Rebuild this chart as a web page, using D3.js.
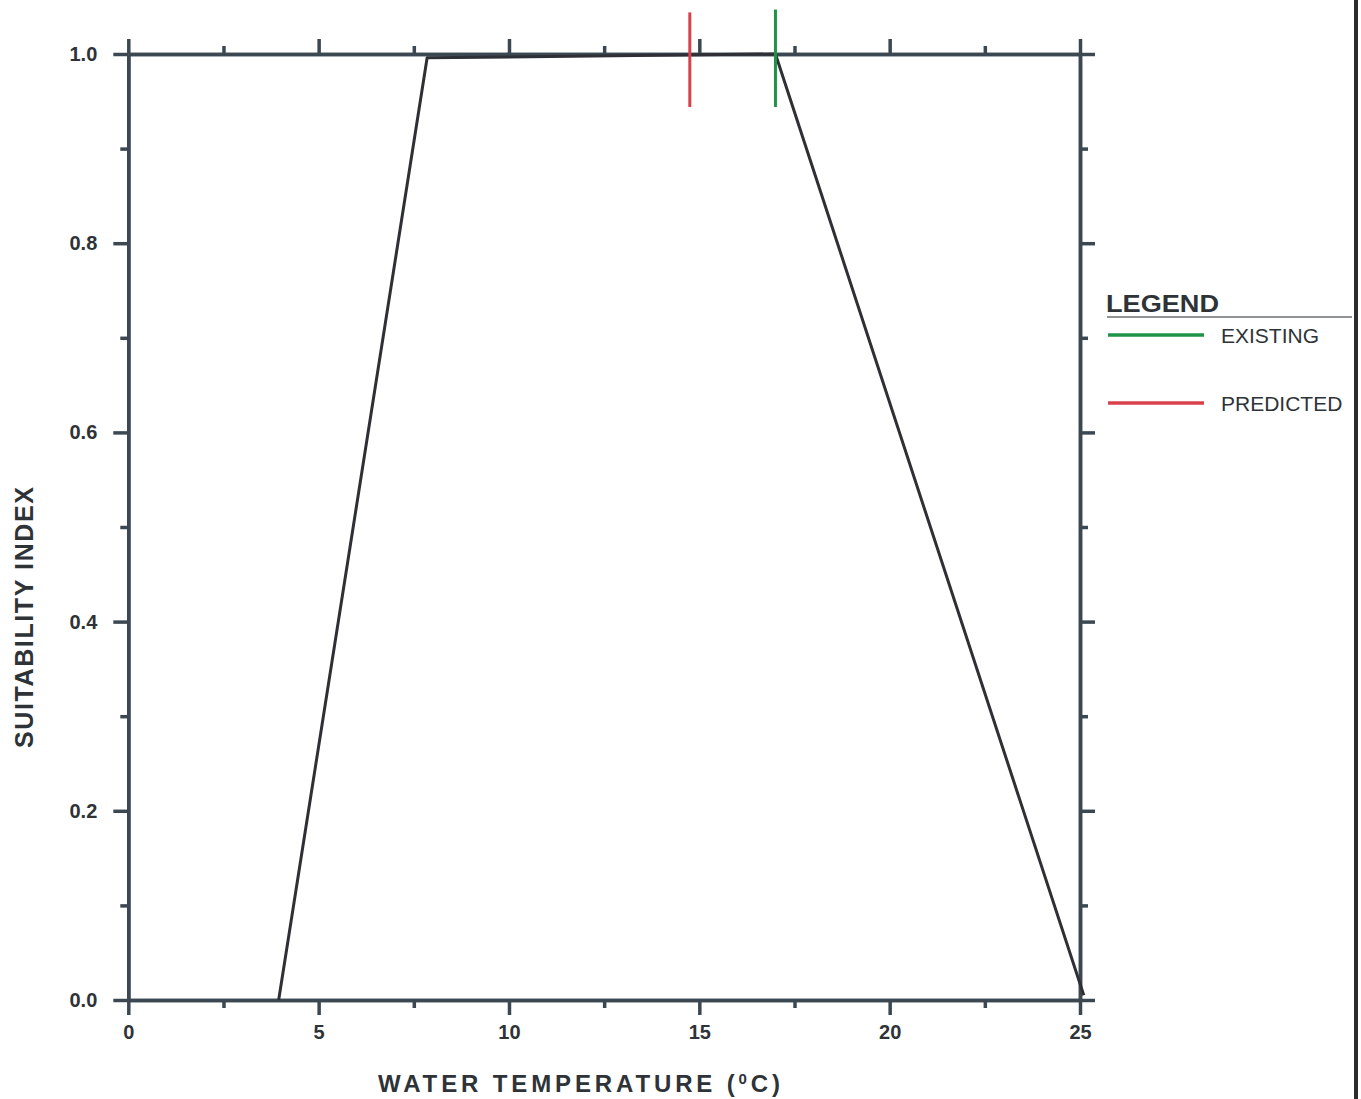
<!DOCTYPE html>
<html lang="en">
<head>
<meta charset="UTF-8">
<title>Suitability Index vs Water Temperature</title>
<script src="https://cdn.jsdelivr.net/npm/d3@7"></script>
<style>
    body { margin: 0; background: #fff; }
    svg  { display: block; }
    .tick text { font-family: "Liberation Sans", Arial, sans-serif; font-weight: bold; font-size: 20px; fill: #2e3338; }
    .title { font-family: "Liberation Sans", Arial, sans-serif; font-weight: bold; fill: #2e3338; }
    .leg { font-family: "Liberation Sans", Arial, sans-serif; fill: #2e3338; }
</style>
</head>
<body>
<svg id="chart" width="1361" height="1099"></svg>
<script>
// suitability curve (temperature, index)
var curveTemp = [3.95, 7.85, 17.0, 25.1];
var curveIndex = [0.0, 0.996, 1.0, 0.005];

// condition markers drawn at the top of the plot
var markerNames = ["EXISTING", "PREDICTED"];
var markerTemp = [17.0, 14.75];
var markerColors = ["#1f9448", "#d8404c"];
var markerLow = [0.944, 0.944];
var markerHigh = [1.047, 1.044];

// ticks
var xMajor = [0, 5, 10, 15, 20, 25];
var xMinor = [2.5, 7.5, 12.5, 17.5, 22.5];
var yMajor = [0, 0.2, 0.4, 0.6, 0.8, 1.0];
var yMinor = [0.1, 0.3, 0.5, 0.7, 0.9];

var axisColor = "#3b4852";
var svg = d3.select("#chart");

var x = d3.scaleLinear().domain([0, 25]).range([128.3, 1080]);
var y = d3.scaleLinear().domain([0, 1]).range([1000, 54]);

// minor ticks first (no labels), then major ticks with optional labels
function drawAxis(gen, tx, ty, major, minor, labels) {
    var g = svg.append("g").attr("transform", "translate(" + tx + "," + ty + ")");
    g.append("g")
    .call(gen.tickValues(minor).tickSize(8).tickSizeOuter(0).tickFormat(""));
    g.append("g")
    .call(gen.tickValues(major).tickSize(15).tickSizeOuter(0)
        .tickFormat(labels ? labels : ""));
    g.selectAll(".domain").attr("stroke", axisColor).attr("stroke-width", 3.5);
    g.selectAll(".tick line").attr("stroke", axisColor).attr("stroke-width", 3.5);
    return g;
}

var bottom = drawAxis(d3.axisBottom(x), 0, y(0), xMajor, xMinor, d3.format("d"));
bottom.selectAll(".tick text").attr("y", 25);
drawAxis(d3.axisTop(x), 0, y(1), xMajor, xMinor, null);
var left = drawAxis(d3.axisLeft(y), x(0), 0, yMajor, yMinor, d3.format(".1f"));
left.selectAll(".tick text").attr("x", -31);
drawAxis(d3.axisRight(y), x(25), 0, yMajor, yMinor, null);

// curve
var pts = curveTemp.map(function(t, i) { return [t, curveIndex[i]]; });
var line = d3.line().x(function(d) { return x(d[0]); }).y(function(d) { return y(d[1]); });
svg.append("path")
.datum(pts)
.attr("d", line)
.attr("fill", "none")
.attr("stroke", "#2f3036")
.attr("stroke-width", 3)
.attr("stroke-linejoin", "round");

// markers
markerNames.forEach(function(n, i) {
    svg.append("line")
    .attr("x1", x(markerTemp[i])).attr("x2", x(markerTemp[i]))
    .attr("y1", y(markerLow[i])).attr("y2", y(markerHigh[i]))
    .attr("stroke", markerColors[i])
    .attr("stroke-width", 3);
});

// axis titles
svg.append("text")
.attr("class", "title")
.attr("x", 378).attr("y", 1092)
.attr("font-size", 24)
.attr("textLength", 402)
.attr("lengthAdjust", "spacing")
.html('WATER TEMPERATURE (<tspan baseline-shift="super" font-size="15">0</tspan>C)');

svg.append("text")
.attr("class", "title")
.attr("transform", "translate(33,748) rotate(-90)")
.attr("font-size", 25)
.attr("textLength", 261)
.attr("lengthAdjust", "spacing")
.text("SUITABILITY INDEX");

// legend
svg.append("text")
.attr("class", "leg")
.attr("x", 1106).attr("y", 312)
.attr("font-size", 24)
.attr("font-weight", "bold")
.attr("textLength", 113)
.attr("lengthAdjust", "spacingAndGlyphs")
.text("LEGEND");
svg.append("line")
.attr("x1", 1107).attr("x2", 1352)
.attr("y1", 317).attr("y2", 317)
.attr("stroke", "#6b6f73").attr("stroke-width", 1.5);

var legY = [335, 403];
markerNames.forEach(function(n, i) {
    svg.append("line")
    .attr("x1", 1108).attr("x2", 1204)
    .attr("y1", legY[i]).attr("y2", legY[i])
    .attr("stroke", markerColors[i]).attr("stroke-width", 3.5);
    svg.append("text")
    .attr("class", "leg")
    .attr("x", 1221).attr("y", legY[i] + 8)
    .attr("font-size", 21)
    .text(n);
});

// scanned page edge on the right
svg.append("line")
.attr("x1", 1356).attr("x2", 1356)
.attr("y1", 0).attr("y2", 1099)
.attr("stroke", "#2a2c2e").attr("stroke-width", 4);
</script>
</body>
</html>
